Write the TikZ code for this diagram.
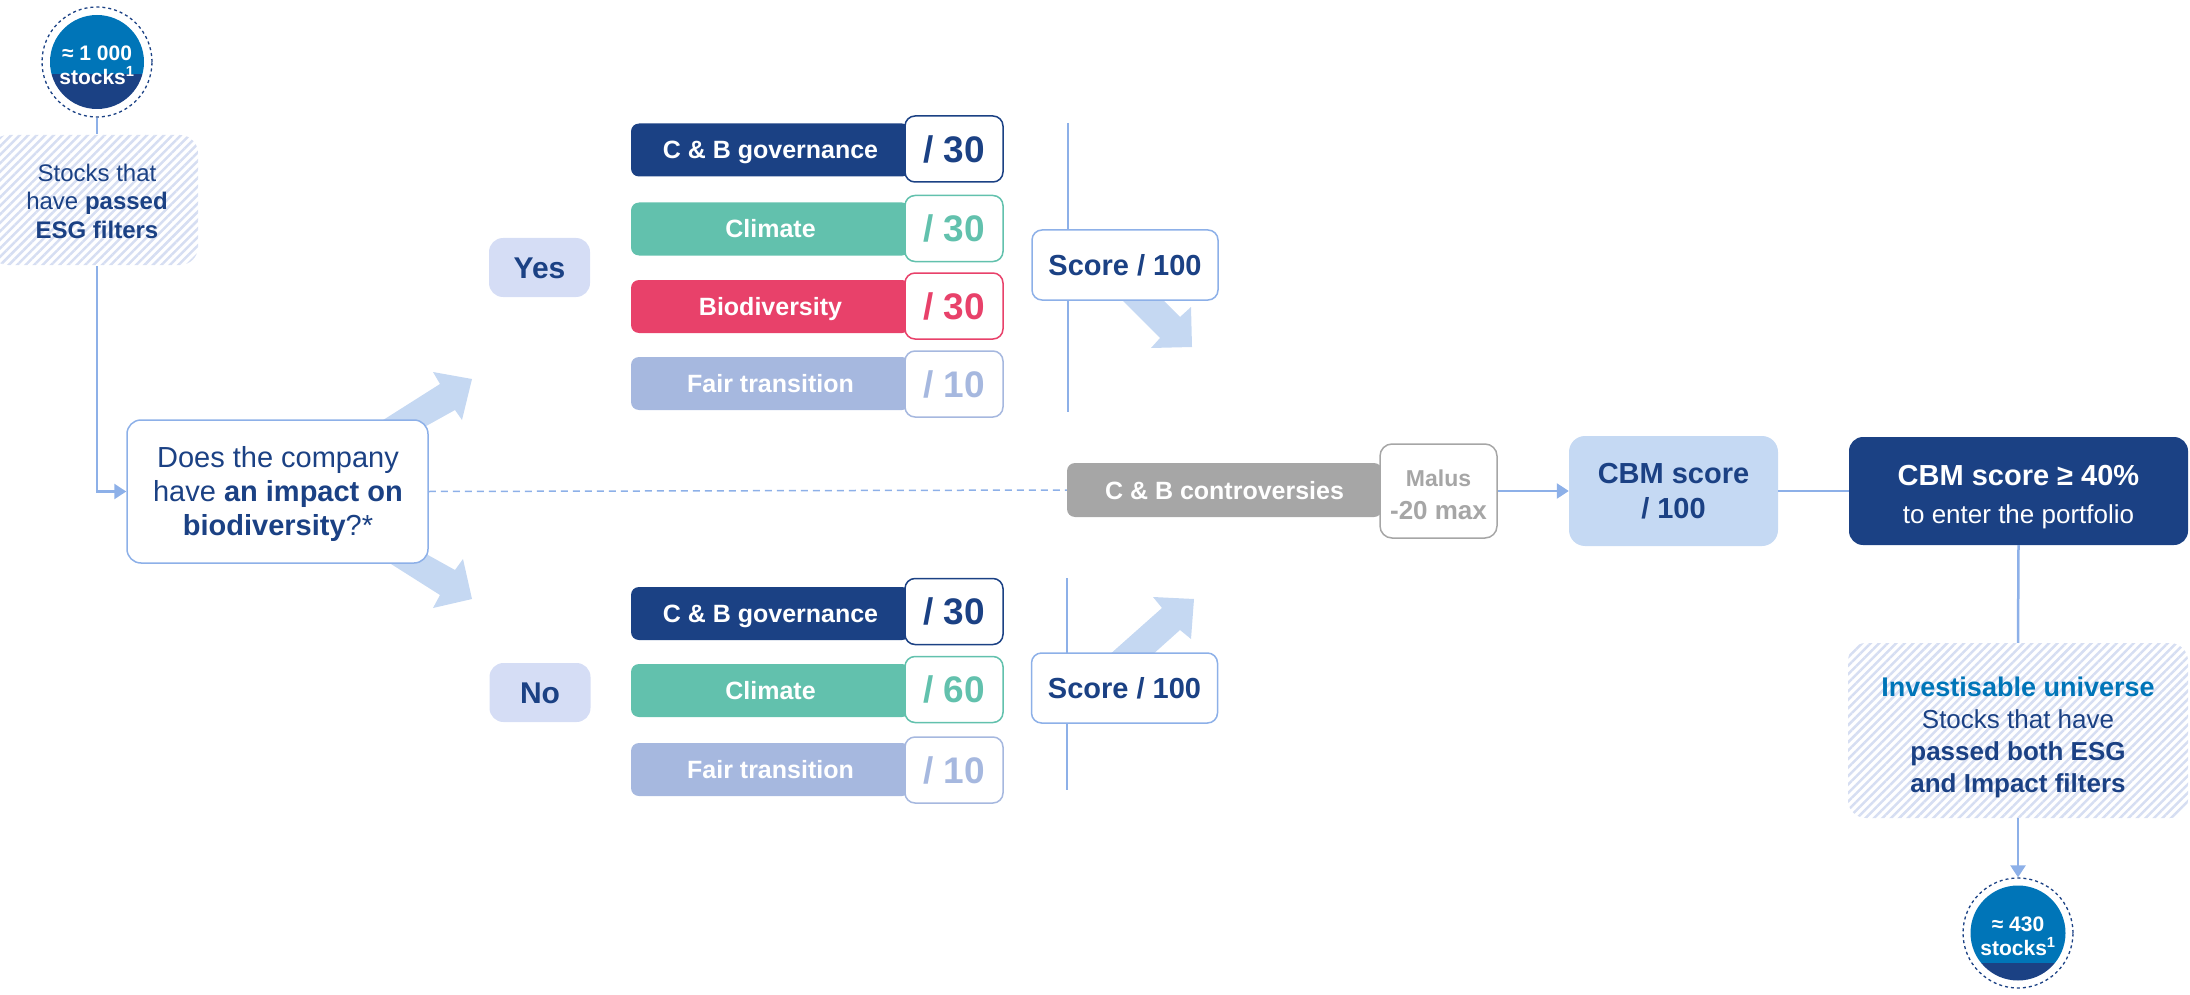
\documentclass[tikz,border=0pt]{standalone}
\usepackage{fontspec}
\setmainfont{Liberation Sans}
\usetikzlibrary{arrows.meta,patterns.meta}
\definecolor{navy}{RGB}{27,65,132}
\definecolor{teal}{RGB}{98,193,173}
\definecolor{pink}{RGB}{232,65,106}
\definecolor{lav}{RGB}{166,184,223}
\definecolor{lline}{RGB}{141,176,232}
\definecolor{fat}{RGB}{197,216,242}
\definecolor{yesfill}{RGB}{213,221,245}
\definecolor{cbmfill}{RGB}{197,217,243}
\definecolor{bblue}{RGB}{0,117,184}
\definecolor{greyc}{RGB}{166,166,166}
\definecolor{hatchc}{RGB}{214,222,242}
\tikzset{
  conn/.style={draw=lline, line width=2.5pt},
  thinconn/.style={draw=lline, line width=1.5pt},
  tipped/.style={-{Triangle[width=15pt,length=12pt]}},
  dashconn/.style={draw=lline, line width=1.5pt, dash pattern=on 7pt off 5pt},
  circnode/.style={circle, draw=navy, dashed, line width=1.3pt, minimum size=110pt, inner sep=0pt},
  circtext/.style={inner sep=0pt, text=white, align=center, font=\fontsize{21}{24}\selectfont\bfseries},
  hatchbox/.style={rounded corners=18pt, pattern={Lines[angle=45,distance=6pt,line width=2.5pt]},
    pattern color=hatchc, inner sep=0pt},
  htext/.style={inner sep=0pt, align=center, text=navy},
  qbox/.style={rounded corners=14pt, draw=lline, line width=1.5pt, fill=white, inner sep=0pt,
    minimum width=301pt, minimum height=143pt},
  qtext/.style={inner sep=0pt, align=center, text=navy, font=\fontsize{29}{34}\selectfont},
  yesno/.style={rounded corners=14pt, fill=yesfill, minimum width=101pt, minimum height=59pt, inner sep=0pt,
    text=navy, text height=21.5pt, text depth=0pt, font=\fontsize{30}{34}\selectfont\bfseries},
  bar/.style={rounded corners=8pt, fill=#1, minimum width=279pt, minimum height=53pt, inner sep=0pt,
    text=white, text height=18pt, text depth=0pt, font=\fontsize{25}{30}\selectfont\bfseries},
  sbox/.style={rounded corners=10pt, fill=white, draw=#1, line width=1.5pt, text=#1,
    minimum width=98pt, minimum height=66pt, inner sep=0pt, text height=26.5pt, text depth=0pt,
    font=\fontsize{37}{40}\selectfont\bfseries},
  scorebox/.style={rounded corners=10pt, fill=white, draw=lline, line width=1.5pt, text=navy,
    minimum width=186pt, minimum height=70pt, inner sep=0pt, text height=21pt, text depth=0pt,
    font=\fontsize{29}{34}\selectfont\bfseries},
  cbar/.style={rounded corners=8pt, fill=greyc, minimum width=315pt, minimum height=54pt, inner sep=0pt,
    text=white, text height=18pt, text depth=0pt, font=\fontsize{25}{30}\selectfont\bfseries},
  malusbox/.style={rounded corners=12pt, fill=white, draw=greyc, line width=1.5pt,
    minimum width=117pt, minimum height=94pt, inner sep=0pt},
  malustext/.style={inner sep=0pt, align=center, text=greyc, font=\fontsize{26}{33}\selectfont\bfseries},
  cbmbox/.style={rounded corners=16pt, fill=cbmfill, minimum width=209pt, minimum height=110pt, inner sep=0pt,
    align=center, text=navy, font=\fontsize{29}{35}\selectfont\bfseries},
  goalbox/.style={rounded corners=14pt, fill=navy, minimum width=339pt, minimum height=108pt, inner sep=0pt},
  goaltext/.style={inner sep=0pt, align=center, text=white, font=\fontsize{26}{38}\selectfont},
}
\begin{document}
\begin{tikzpicture}[x=1pt,y=-1pt]
\useasboundingbox (0,0) rectangle (2190,995);

% ---- top circle
\begin{scope}
  \clip (97,62) circle [radius=47];
  \fill[bblue] (40,0) rectangle (160,74);
  \fill[navy] (40,74) rectangle (160,130);
\end{scope}
\node[circnode] (c1) at (97,62) {};
\node[circtext] (c1t) at (97,65) {≈ 1 000\\stocks\textsuperscript{1}};

% ---- hatched box 1
\node[hatchbox, minimum width=208pt, minimum height=130pt] (h1) at (94,200) {};
\node[htext, font=\fontsize{24}{28.5}\selectfont] (h1t) at (97,201)
  {Stocks that\\have \textbf{passed}\\\textbf{ESG filters}};

% ---- fat arrows (behind boxes)
\fill[fat] (380,422) -- (440,384) -- (433,372) -- (472,379) -- (462,420) -- (455,410) -- (410,435) -- cycle;
\fill[fat] (410,545) -- (455,570) -- (463,559) -- (472,599) -- (433,608) -- (440,595) -- (380,557) -- cycle;
\fill[fat] (1119,297) -- (1160,338) -- (1151,348) -- (1192,347) -- (1191,307) -- (1180,317) -- (1160,297) -- cycle;
\fill[fat] (1108,656) -- (1162,608) -- (1153,597) -- (1194,599) -- (1191,639) -- (1180,630) -- (1151,656) -- cycle;

% ---- question box
\node[qbox] (q) at (277.5,491.5) {};
\node[qtext] (qt) at (278,494) {Does the company\\have \textbf{an impact on}\\\textbf{biodiversity}?*};

% ---- yes / no
\node[yesno] (yes) at (539.5,267.5) {Yes};
\node[yesno] (no) at (540,692.5) {No};

% ---- top rows
\node[bar=navy] (t1) at (770.5,150) {C \& B governance};
\node[sbox=navy] (t1s) at (954,149) {/ 30};
\node[bar=teal] (t2) at (770.5,229) {Climate};
\node[sbox=teal] (t2s) at (954,228.5) {/ 30};
\node[bar=pink] (t3) at (770.5,306.5) {Biodiversity};
\node[sbox=pink] (t3s) at (954,306) {/ 30};
\node[bar=lav] (t4) at (770.5,383.5) {Fair transition};
\node[sbox=lav] (t4s) at (954,384) {/ 10};

% ---- bottom rows
\node[bar=navy] (b1) at (770.5,613.5) {C \& B governance};
\node[sbox=navy] (b1s) at (954,611.5) {/ 30};
\node[bar=teal] (b2) at (770.5,690.5) {Climate};
\node[sbox=teal] (b2s) at (954,689.5) {/ 60};
\node[bar=lav] (b3) at (770.5,769.5) {Fair transition};
\node[sbox=lav] (b3s) at (954,770) {/ 10};

% ---- vertical lines and score boxes
\coordinate (v1a) at (1068,123);
\coordinate (v1b) at (1068,412);
\coordinate (v2a) at (1067,578);
\coordinate (v2b) at (1067,790);
\draw[thinconn] (v1a) -- (v1b);
\draw[thinconn] (v2a) -- (v2b);
\node[scorebox] (s1) at (1125,265) {Score / 100};
\node[scorebox] (s2) at (1124.5,688) {Score / 100};

% ---- controversies
\node[cbar] (cbc) at (1224.5,490) {C \& B controversies};
\node[malusbox] (malus) at (1438.5,491) {};
\node[malustext] (malust) at (1438.5,495) {{\fontsize{23}{33}\selectfont Malus}\\-20 max};

% ---- CBM and goal
\node[cbmbox] (cbm) at (1673.5,491) {CBM score\\/ 100};
\node[goalbox] (goal) at (2018.5,491) {};
\node[goaltext] (goalt) at (2018.5,497) {{\fontsize{29}{38}\selectfont\bfseries CBM score ≥ 40\%}\\to enter the portfolio};

% ---- hatched box 2
\node[hatchbox, minimum width=340pt, minimum height=175pt] (h2) at (2018,730.5) {};
\node[htext, font=\fontsize{26}{32}\selectfont] (h2t) at (2018,737)
  {{\fontsize{27}{32}\selectfont\bfseries\color{bblue}Investisable universe}\\Stocks that have\\\textbf{passed both ESG}\\\textbf{and Impact filters}};

% ---- bottom circle
\begin{scope}
  \clip (2018,933) circle [radius=47.5];
  \fill[bblue] (1960,870) rectangle (2080,963);
  \fill[navy] (1960,963) rectangle (2080,1000);
\end{scope}
\node[circnode] (c2) at (2018,933) {};
\node[circtext] (c2t) at (2018,936) {≈ 430\\stocks\textsuperscript{1}};

% ---- connectors
\draw[conn] (c1.south) -- (c1.south |- h1.north);
\draw[conn, tipped] (c1.south |- h1.south) |- (q.west);
\draw[dashconn] (q.east) -- (cbc.west);
\draw[conn, tipped] (malus.east) -- (cbm.west);
\draw[conn] (cbm.east) -- (goal.west);
\draw[conn] (goal.south) -- (h2.north);
\draw[conn, tipped] (h2.south) -- (c2.north);
\end{tikzpicture}
\end{document}
